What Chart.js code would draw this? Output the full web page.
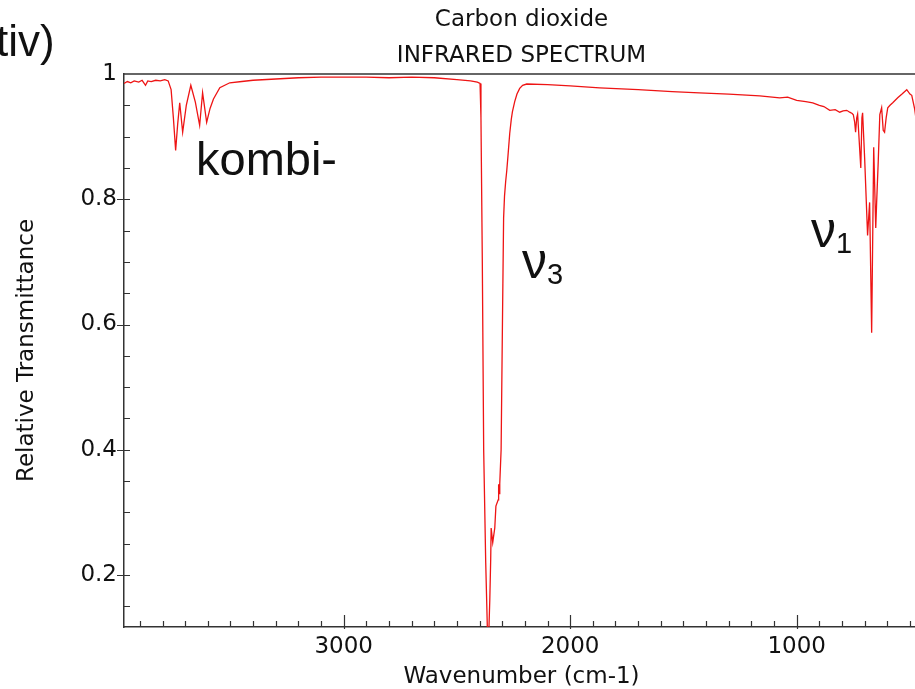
<!DOCTYPE html>
<html>
<head>
<meta charset="utf-8">
<script src="https://cdn.jsdelivr.net/npm/chart.js@4.4.1/dist/chart.umd.min.js"></script>
<style>
  html, body { margin: 0; padding: 0; background: #fff; overflow: hidden; width: 915px; height: 689px; }
  #wrap { position: absolute; left: 0; top: 0; width: 940px; height: 689px; }
  .note { position: absolute; font-family: "Liberation Sans", Arial, sans-serif; color: #111; line-height: 1; white-space: nowrap; }
  .sub { font-size: 29px; position: relative; top: 6px; }
</style>
</head>
<body>
<div id="wrap">
  <canvas id="ir" width="940" height="689"></canvas>
  <div class="note" style="left:-4px;top:19px;font-size:44px">tiv)</div>
  <div class="note" style="left:196px;top:135px;font-size:47px">kombi-</div>
  <div class="note" style="left:522px;top:236px;font-size:50px">ν<span class="sub">3</span></div>
  <div class="note" style="left:811px;top:205px;font-size:50px">ν<span class="sub">1</span></div>
</div>
<script>
// spectrum (wavenumber in cm-1, relative transmittance)
const wavenumbers = [
  3970, 3955, 3940, 3925, 3905, 3890, 3875, 3865, 3850, 3830, 3810, 3790, 3775,
  3762, 3752, 3742, 3733, 3724, 3711, 3695, 3675, 3655, 3636, 3623, 3605, 3590,
  3575, 3547, 3503, 3450, 3400, 3300, 3200, 3100, 3000, 2900, 2800, 2700, 2600,
  2500, 2440, 2410, 2398, 2394, 2388, 2382, 2373, 2364, 2360, 2355, 2351, 2349,
  2342, 2333, 2328, 2318, 2316, 2314, 2311, 2305, 2298, 2294, 2290, 2285, 2280,
  2275, 2267, 2260, 2255, 2245, 2235, 2223, 2210, 2192, 2100, 2000, 1870, 1700,
  1550, 1430, 1300, 1163, 1075, 1040, 1000, 960, 929, 900, 880, 854, 830, 810,
  795, 779, 766, 755, 750, 744, 740, 735, 731, 717, 712, 709, 700, 687, 678, 669,
  660, 651, 647, 640, 633, 625, 618, 612, 605, 598, 588, 576, 565, 554, 535, 514,
  500, 492, 479, 470, 460
];
const transmittance = [
  0.985, 0.988, 0.986, 0.989, 0.987, 0.990, 0.982, 0.989, 0.988, 0.990, 0.989, 0.991, 0.989,
  0.975, 0.930, 0.878, 0.920, 0.954, 0.907, 0.950, 0.982, 0.955, 0.918, 0.970, 0.923, 0.945,
  0.960, 0.978, 0.986, 0.988, 0.990, 0.992, 0.994, 0.995, 0.995, 0.995, 0.994, 0.995, 0.994,
  0.991, 0.989, 0.987, 0.985, 0.930, 0.700, 0.400, 0.220, 0.090, 0.100, 0.160, 0.225, 0.275,
  0.252, 0.275, 0.310, 0.320, 0.345, 0.330, 0.346, 0.400, 0.640, 0.770, 0.805, 0.828, 0.846,
  0.868, 0.905, 0.928, 0.940, 0.956, 0.968, 0.977, 0.982, 0.984, 0.983, 0.981, 0.978, 0.975,
  0.972, 0.970, 0.968, 0.965, 0.962, 0.963, 0.958, 0.956, 0.954, 0.950, 0.948, 0.942, 0.943, 0.939,
  0.941, 0.942, 0.939, 0.937, 0.935, 0.923, 0.907, 0.930, 0.936, 0.850, 0.930, 0.938, 0.866, 0.742, 0.795, 0.587,
  0.883, 0.754, 0.795, 0.860, 0.935, 0.946, 0.910, 0.907, 0.930, 0.946, 0.950, 0.954, 0.958, 0.962, 0.968, 0.975,
  0.968, 0.966, 0.944, 0.920, 0.910
];

const xTickValues = [1000, 2000, 3000];
const yTickValues = [0.2, 0.4, 0.6, 0.8, 1];

const axisColor = "#333";
const textFont = { family: "DejaVu Sans", size: 23 };

// matplotlib style frame and inward tick marks
const frameTicks = {
  id: "frameTicks",
  afterDraw(chart) {
    const { ctx, chartArea, scales } = chart;
    const x = scales.x;
    const y = scales.y;
    ctx.save();
    ctx.strokeStyle = axisColor;
    ctx.lineWidth = 1.5;
    ctx.beginPath();
    ctx.moveTo(chartArea.left, chartArea.top);
    ctx.lineTo(chartArea.right, chartArea.top);
    ctx.stroke();

    ctx.lineWidth = 1.2;
    ctx.beginPath();
    for (let v = 100; v < x.max; v += 100) {
      if (v < x.min) continue;
      const px = Math.round(x.getPixelForValue(v)) + 0.5;
      const major = v % 1000 === 0;
      ctx.moveTo(px, chartArea.bottom + (major ? 2 : 0));
      ctx.lineTo(px, chartArea.bottom - (major ? 12 : 6));
    }
    for (let i = 2; i < 20; i++) {
      const v = i * 0.05;
      if (v < y.min) continue;
      const py = Math.round(y.getPixelForValue(v)) + 0.5;
      const major = i % 4 === 0;
      ctx.moveTo(chartArea.left - (major ? 7 : 0), py);
      ctx.lineTo(chartArea.left + 6, py);
    }
    ctx.stroke();
    ctx.restore();
  }
};

const ctx = document.getElementById("ir").getContext("2d");
const irChart = new Chart(ctx, {
  type: "line",
  data: {
    datasets: [
      {
        data: wavenumbers.map((w, i) => ({ x: w, y: transmittance[i] })),
        borderColor: "rgb(238,20,20)",
        borderWidth: 1.3,
        pointRadius: 0,
        tension: 0,
        fill: false,
      },
    ],
  },
  options: {
    responsive: false,
    animation: false,
    devicePixelRatio: 1,
    layout: { padding: { left: 0, right: 21, top: 0, bottom: 0 } },
    plugins: {
      legend: { display: false },
      tooltip: { enabled: false },
      title: {
        display: true,
        text: "Carbon dioxide",
        fullSize: false,
        color: "#111",
        font: { family: "DejaVu Sans", size: 23, weight: "normal", lineHeight: 1.2 },
        padding: { top: 6, bottom: 0 },
      },
      subtitle: {
        display: true,
        text: "INFRARED SPECTRUM",
        fullSize: false,
        color: "#111",
        font: { family: "DejaVu Sans", size: 23, weight: "normal", lineHeight: 1.2 },
        padding: { top: 9, bottom: 3.8 },
      },
    },
    scales: {
      x: {
        type: "linear",
        reverse: true,
        min: 460,
        max: 3970,
        afterFit(scale) { scale.height = 62; },
        afterBuildTicks(scale) { scale.ticks = xTickValues.map(v => ({ value: v })); },
        grid: { display: false, drawTicks: false },
        border: { display: true, color: axisColor, width: 1.5 },
        ticks: { color: "#111", font: textFont, padding: 6, maxRotation: 0, callback: v => String(v) },
        title: {
          display: true,
          text: "Wavenumber (cm-1)",
          color: "#111",
          font: { family: "DejaVu Sans", size: 23, lineHeight: 1.0 },
          padding: { top: 0, bottom: 0 },
        },
      },
      y: {
        type: "linear",
        min: 0.117,
        max: 1,
        afterFit(scale) { scale.width = 124; },
        afterBuildTicks(scale) { scale.ticks = yTickValues.map(v => ({ value: v })); },
        grid: { display: false, drawTicks: false },
        border: { display: true, color: axisColor, width: 1.5 },
        ticks: { color: "#111", font: textFont, padding: 7, callback: v => String(v) },
        title: { display: true, text: "Relative Transmittance", color: "#111", font: textFont, padding: { top: 13, bottom: 0 } },
      },
    },
  },
  plugins: [frameTicks],
});
</script>
</body>
</html>
